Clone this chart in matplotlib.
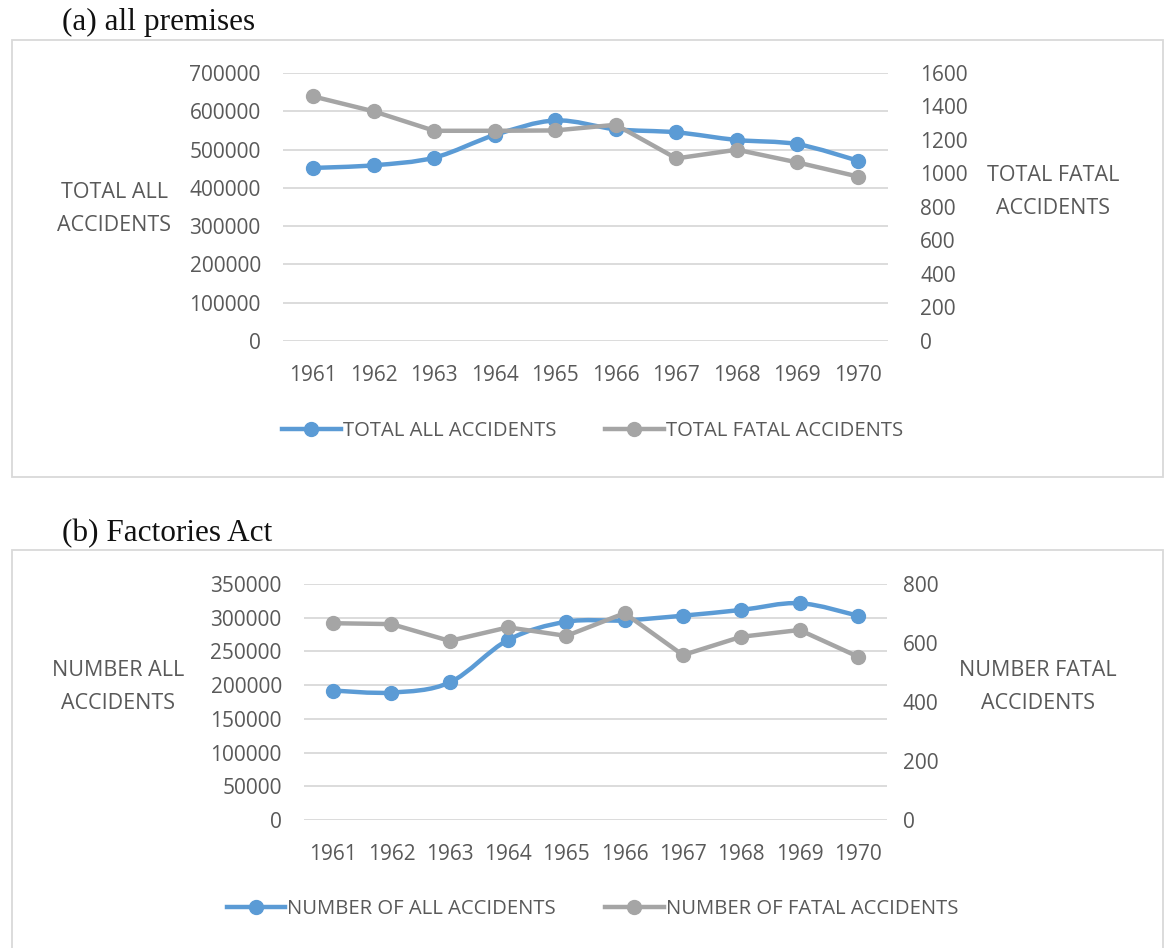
import numpy as np
import matplotlib.pyplot as plt
from matplotlib.path import Path
from matplotlib.patches import PathPatch, Rectangle
from matplotlib.lines import Line2D

years = ['1961', '1962', '1963', '1964', '1965', '1966', '1967', '1968', '1969', '1970']

# (a) all premises
all_total = [452000, 459000, 479000, 538000, 576000, 553000, 545000, 525000, 514000, 471000]
all_fatal = [1460, 1371, 1255, 1255, 1257, 1291, 1090, 1142, 1066, 982]

# (b) Factories Act
fa_total = [192000, 189000, 204000, 267000, 294000, 296000, 303000, 311500, 321500, 303000]
fa_fatal = [667, 664, 607, 653, 624, 701, 559, 621, 644, 554]

BLUE = '#5B9BD5'
GRAY = '#A5A5A5'
TXT = '#595959'
plt.rcParams['font.family'] = ['Open Sans', 'DejaVu Sans']
SERIF = ['Liberation Serif', 'DejaVu Serif']


def smooth_line(ax, xs, ys, color):
    # excel style smoothed line: cubic bezier through the points
    xs = np.asarray(xs, float)
    ys = np.asarray(ys, float)
    n = len(xs)
    verts = [(xs[0], ys[0])]
    codes = [Path.MOVETO]
    t = 1 / 6
    for i in range(n - 1):
        p0 = (xs[max(i - 1, 0)], ys[max(i - 1, 0)])
        p1 = (xs[i], ys[i])
        p2 = (xs[i + 1], ys[i + 1])
        p3 = (xs[min(i + 2, n - 1)], ys[min(i + 2, n - 1)])
        c1 = (p1[0] + (p2[0] - p0[0]) * t, p1[1] + (p2[1] - p0[1]) * t)
        c2 = (p2[0] - (p3[0] - p1[0]) * t, p2[1] - (p3[1] - p1[1]) * t)
        verts += [c1, c2, p2]
        codes += [Path.CURVE4] * 3
    ax.add_patch(PathPatch(Path(verts, codes), fill=False, edgecolor=color,
                           lw=3.2, capstyle='round', joinstyle='round', zorder=3))
    ax.plot(xs, ys, 'o', color=color, ms=10, zorder=4)


def panel(rect, left, right, lmax, lstep, rmax, rstep, rpad):
    ax = fig.add_axes(rect)
    ax2 = ax.twinx()
    x = np.arange(len(years))
    smooth_line(ax, x, left, BLUE)
    ax2.plot(x, right, '-o', color=GRAY, lw=3.2, ms=10, solid_joinstyle='round', zorder=3)
    ax.set_xlim(-0.5, len(years) - 0.5)
    ax.set_ylim(0, lmax)
    ax2.set_ylim(0, rmax)
    ax.set_yticks(np.arange(0, lmax + 1, lstep))
    ax2.set_yticks(np.arange(0, rmax + 1, rstep))
    ax.set_xticks(x)
    ax.set_xticklabels(years)
    for a in (ax, ax2):
        for s in a.spines.values():
            s.set_visible(False)
        a.tick_params(length=0, labelsize=15, labelcolor=TXT)
    ax.tick_params(axis='x', pad=17)
    ax.tick_params(axis='y', pad=16)
    ax2.tick_params(axis='y', pad=rpad)
    ax.yaxis.grid(True, color='#D9D9D9', lw=1.3)
    ax.set_axisbelow(True)
    return ax


fig = plt.figure(figsize=(11.66, 9.48), dpi=100)

for y0, h in [(0.4968, 0.461), (-0.01, 0.43)]:
    fig.patches.append(Rectangle((0.0103, y0), 0.987, h, transform=fig.transFigure,
                                 fill=False, edgecolor='#D9D9D9', lw=1.3))

fig.text(0.053, 0.976, '(a) all premises', fontsize=22.5, family=SERIF,
         ha='left', va='center', color='#111111')
fig.text(0.053, 0.437, '(b) Factories Act', fontsize=22.5, family=SERIF,
         ha='left', va='center', color='#111111')

panel([0.2427, 0.6403, 0.519, 0.2827], all_total, all_fatal, 700000, 100000, 1600, 200, 23)
panel([0.2607, 0.135, 0.5, 0.249], fa_total, fa_fatal, 350000, 50000, 800, 200, 11.5)

axis_labels = [('TOTAL ALL\nACCIDENTS', 0.098, 0.7795),
               ('TOTAL FATAL\nACCIDENTS', 0.903, 0.7975),
               ('NUMBER ALL\nACCIDENTS', 0.101, 0.2753),
               ('NUMBER FATAL\nACCIDENTS', 0.89, 0.2753)]
for txt, lx, ly in axis_labels:
    fig.text(lx, ly, txt, ha='center', va='center', fontsize=15.5, color=TXT, linespacing=1.75)

h1 = [Line2D([], [], color=BLUE, lw=3.2, marker='o', ms=10),
      Line2D([], [], color=GRAY, lw=3.2, marker='o', ms=10)]
for labels, (cx, cy) in [(['TOTAL ALL ACCIDENTS', 'TOTAL FATAL ACCIDENTS'], (0.508, 0.545)),
                         (['NUMBER OF ALL ACCIDENTS', 'NUMBER OF FATAL ACCIDENTS'], (0.508, 0.041))]:
    leg = fig.legend(h1, labels, loc='center', bbox_to_anchor=(cx, cy), ncol=2, frameon=False,
                     fontsize=14.6, handlelength=2.9, handletextpad=0.1, columnspacing=2.4)
    for t in leg.get_texts():
        t.set_color(TXT)

fig.savefig('out.png', dpi=100)
